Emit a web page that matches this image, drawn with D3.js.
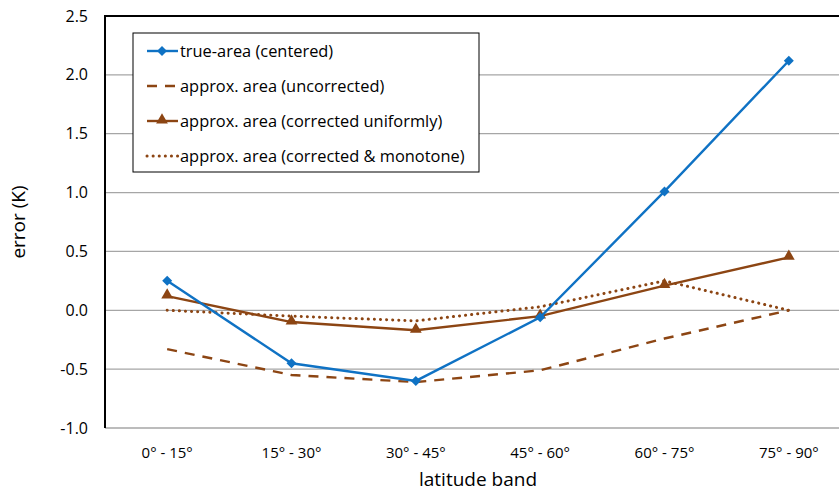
<!DOCTYPE html>
<html>
<head>
<meta charset="utf-8">
<script src="https://cdn.jsdelivr.net/npm/d3@7"></script>
<style>
body { margin: 0; background: #fff; }
text { font-family: "Open Sans", "Noto Sans", sans-serif; fill: #000; }
</style>
</head>
<body>
<svg id="graph" width="839" height="493"></svg>
<script>
var categories = ["0° - 15°", "15° - 30°", "30° - 45°", "45° - 60°", "60° - 75°", "75° - 90°"];
var yTicks = [-1.0, -0.5, 0.0, 0.5, 1.0, 1.5, 2.0, 2.5];
var trueArea = [0.25, -0.45, -0.60, -0.06, 1.01, 2.12];
var uncorrected = [-0.33, -0.55, -0.61, -0.51, -0.24, 0.0];
var corrUniform = [0.12, -0.10, -0.17, -0.05, 0.21, 0.45];
var corrMonotone = [0.0, -0.05, -0.09, 0.03, 0.25, 0.0];
var seriesNames = ["true-area (centered)", "approx. area (uncorrected)",
    "approx. area (corrected uniformly)", "approx. area (corrected & monotone)"];

var blue = "#0f72c4", brown = "#8c4513";
var series = [
    {name: seriesNames[0], values: trueArea, color: blue, dash: null, marker: "diamond"},
    {name: seriesNames[1], values: uncorrected, color: brown, dash: "10,8", marker: null},
    {name: seriesNames[2], values: corrUniform, color: brown, dash: null, marker: "triangle"},
    {name: seriesNames[3], values: corrMonotone, color: brown, dash: "0.1,6", marker: null}
];

var svg = d3.select("#graph");
var pl = 105, pr = 851, pt = 16, pb = 428;

var x = d3.scaleBand().domain(categories).range([pl, pr]);
var y = d3.scaleLinear().domain([-1, 2.5]).range([pb, pt]);

// gridlines
svg.append("g").selectAll("line")
    .data(yTicks.slice(1))
    .enter().append("line")
    .attr("x1", pl).attr("x2", pr)
    .attr("y1", function(d) {return y(d);})
    .attr("y2", function(d) {return y(d);})
    .attr("stroke", "#a6a6a6").attr("stroke-width", 1.3);

// bottom axis line
svg.append("line").attr("x1", pl).attr("x2", pr)
    .attr("y1", y(-1)).attr("y2", y(-1))
    .attr("stroke", "#a6a6a6").attr("stroke-width", 1.5);

// frame left + top
svg.append("path")
    .attr("d", "M" + pl + "," + pb + "V" + pt + "H" + pr)
    .attr("fill", "none").attr("stroke", "#000").attr("stroke-width", 2);

// y tick labels
svg.append("g").selectAll("text")
    .data(yTicks)
    .enter().append("text")
    .attr("x", 88)
    .attr("y", function(d) {return y(d);})
    .attr("dy", "0.35em")
    .attr("text-anchor", "end")
    .attr("font-size", 16)
    .text(function(d) {return d3.format(".1f")(d).replace("\u2212", "-");});

// x tick labels
svg.append("g").selectAll("text")
    .data(categories)
    .enter().append("text")
    .attr("x", function(d) {return x(d) + x.bandwidth() / 2;})
    .attr("y", 458)
    .attr("text-anchor", "middle")
    .attr("font-size", 15)
    .text(function(d) {return d;});

svg.append("text").attr("x", 478).attr("y", 486)
    .attr("text-anchor", "middle").attr("font-size", 19)
    .text("latitude band");

svg.append("text")
    .attr("transform", "translate(25,222) rotate(-90)")
    .attr("text-anchor", "middle").attr("font-size", 19)
    .text("error (K)");

var line = d3.line()
    .x(function(d, i) {return x(categories[i]) + x.bandwidth() / 2;})
    .y(function(d) {return y(d);});

function drawMarker(g, type, cx, cy, color) {
    if (type === "diamond") {
        g.append("path").attr("d", d3.symbol(d3.symbolSquare, 50)())
            .attr("transform", "translate(" + cx + "," + cy + ") rotate(45)").attr("fill", color);
    } else if (type === "triangle") {
        g.append("path").attr("d", d3.symbol(d3.symbolTriangle, 60)())
            .attr("transform", "translate(" + cx + "," + (cy - 1) + ")").attr("fill", color);
    }
}

// series, drawn back to front
[3, 1, 2, 0].forEach(function(k) {
    var s = series[k];
    var g = svg.append("g");
    g.append("path").datum(s.values)
        .attr("d", line)
        .attr("fill", "none")
        .attr("stroke", s.color)
        .attr("stroke-width", k === 3 ? 3 : 2.4)
        .attr("stroke-linecap", k === 3 ? "round" : "butt")
        .attr("stroke-dasharray", s.dash);
    if (s.marker) {
        s.values.forEach(function(v, i) {
            drawMarker(g, s.marker, x(categories[i]) + x.bandwidth() / 2, y(v), s.color);
        });
    }
});

// legend
var lg = svg.append("g");
lg.append("rect").attr("x", 133).attr("y", 33).attr("width", 346).attr("height", 139)
    .attr("fill", "#fff").attr("stroke", "#000").attr("stroke-width", 1);
series.forEach(function(s, i) {
    var ly = 51 + i * 35;
    lg.append("line").attr("x1", 147).attr("x2", 178).attr("y1", ly).attr("y2", ly)
        .attr("stroke", s.color)
        .attr("stroke-width", i === 3 ? 3 : 2.4)
        .attr("stroke-linecap", i === 3 ? "round" : "butt")
        .attr("stroke-dasharray", s.dash);
    if (s.marker) drawMarker(lg, s.marker, 162, ly, s.color);
    lg.append("text").attr("x", 180).attr("y", ly).attr("dy", "0.35em")
        .attr("font-size", 16.4).text(s.name);
});
</script>
</body>
</html>
